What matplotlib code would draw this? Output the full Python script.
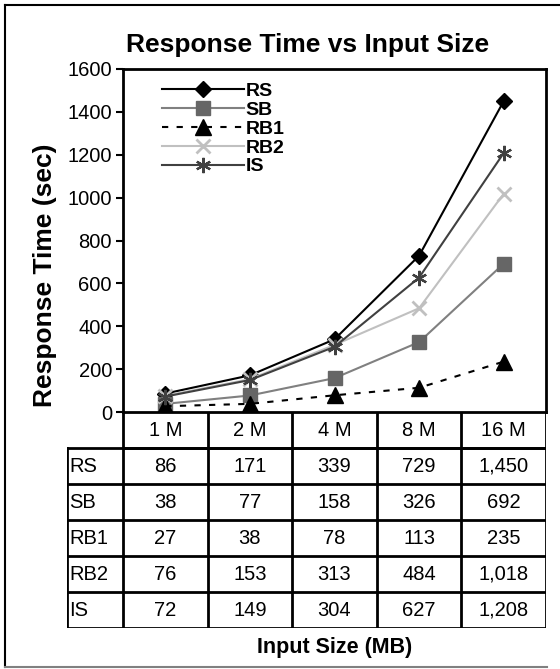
import matplotlib.pyplot as plt

plt.rcParams['font.family'] = ['Liberation Sans', 'DejaVu Sans']

sizes = ["1 M", "2 M", "4 M", "8 M", "16 M"]
series = ["RS", "SB", "RB1", "RB2", "IS"]
rs = [86, 171, 339, 729, 1450]
sb = [38, 77, 158, 326, 692]
rb1 = [27, 38, 78, 113, 235]
rb2 = [76, 153, 313, 484, 1018]
is_ = [72, 149, 304, 627, 1208]
values = [rs, sb, rb1, rb2, is_]

styles = {
    "RS": dict(color="black", marker="D", ls="-", ms=8.5, mfc="black", mec="black"),
    "SB": dict(color="#808080", marker="s", ls="-", ms=10.5, mfc="#666666", mec="#666666"),
    "RB1": dict(color="black", marker="^", ls=(0, (3, 4)), ms=11.5, mfc="black", mec="black"),
    "RB2": dict(color="#c0c0c0", marker="x", ls="-", ms=10, mfc="#c0c0c0", mec="#c0c0c0", mew=2),
    "IS": dict(color="#404040", marker=(6, 2, 0), ls="-", ms=11, mfc="#404040", mec="#404040", mew=1.6),
}

W, H = 560, 669
fig = plt.figure(figsize=(W / 100, H / 100), dpi=100)

# rahmen aussen (rechts abgeschnitten wie im original)
fig.add_artist(plt.Line2D([5 / W, 5 / W], [1 - 5 / H, 1 - 667 / H], color="black", lw=1.5))
fig.add_artist(plt.Line2D([5 / W, 1.0], [1 - 5 / H, 1 - 5 / H], color="black", lw=1.5))
fig.add_artist(plt.Line2D([5 / W, 547 / W], [1 - 667 / H, 1 - 667 / H], color="#808080", lw=1.5))

left, right = 123 / W, 546 / W
ax = fig.add_axes([left, 1 - 412 / H, right - left, (412 - 69) / H])
x = list(range(len(sizes)))
for name, vals in zip(series, values):
    ax.plot(x, vals, label=name, lw=1.5, **styles[name])

ax.set_xlim(-0.5, len(sizes) - 0.5)
ax.set_ylim(0, 1600)
ax.set_yticks(range(0, 1601, 200))
ax.set_xticks([])
ax.tick_params(axis="y", direction="out", length=5, width=1.5, labelsize=14.5, pad=3)
for s in ax.spines.values():
    s.set_linewidth(2)
ax.set_ylabel("Response Time (sec)", fontsize=19, fontweight="bold")
ax.yaxis.set_label_coords(-0.156, 0.40)

fig.text(308 / W, 1 - 52 / H, "Response Time vs Input Size", ha="center", va="baseline",
         fontsize=19, fontweight="bold")

leg = ax.legend(loc="upper left", frameon=False, handlelength=4.2, handletextpad=0.1,
                labelspacing=0.06, borderaxespad=0.3, bbox_to_anchor=(0.06, 1.0),
                prop=dict(size=14, weight="bold"))

# tabelle unter dem plot
lab_w = (123 - 67) / 84.6
tax = fig.add_axes([67 / W, 1 - 628 / H, (546 - 67) / W, (628 - 412) / H])
tax.set_xlim(-0.5 - lab_w, len(sizes) - 0.5)
tax.set_ylim(6, 0)
tax.axis("off")
lw = 2
tax.plot([-0.5, len(sizes) - 0.5], [1, 1], color="black", lw=lw, solid_capstyle="projecting")
for r in range(1, 7):
    tax.plot([-0.5 - lab_w, len(sizes) - 0.5], [r, r], color="black", lw=lw, solid_capstyle="projecting")
tax.plot([-0.5 - lab_w] * 2, [1, 6], color="black", lw=lw, solid_capstyle="projecting")
for c in range(len(sizes) + 1):
    tax.plot([c - 0.5] * 2, [0, 6], color="black", lw=lw, solid_capstyle="projecting")

for c, s in enumerate(sizes):
    tax.text(c, 0.5, s, ha="center", va="center", fontsize=14.5)
for r, (name, vals) in enumerate(zip(series, values)):
    tax.text(-0.5 - lab_w + 0.03, r + 1.5, name, ha="left", va="center", fontsize=14.5)
    for c, v in enumerate(vals):
        tax.text(c, r + 1.5, f"{v:,}", ha="center", va="center", fontsize=14.5)

fig.text((123 + 546) / 2 / W, 1 - 648 / H, "Input Size (MB)", ha="center", va="center",
         fontsize=15.5, fontweight="bold")

fig.savefig("out.png", dpi=100)
